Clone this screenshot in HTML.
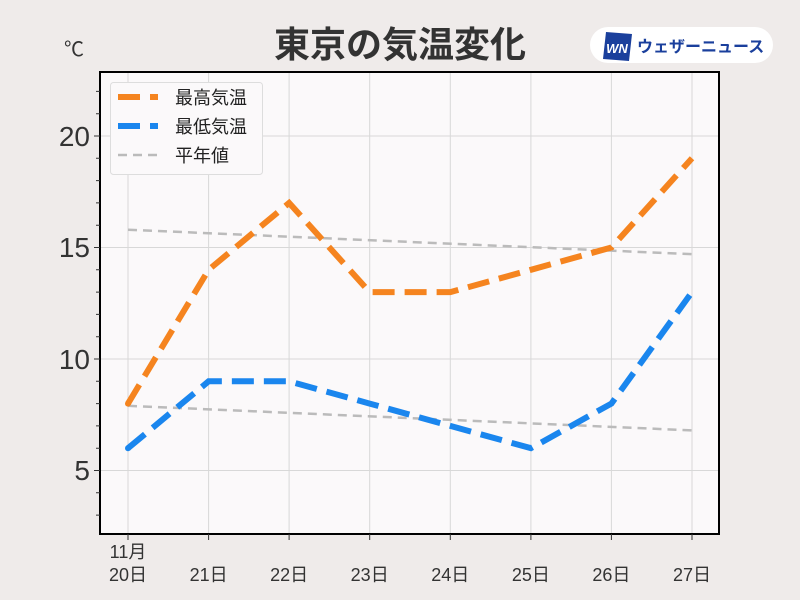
<!DOCTYPE html>
<html><head><meta charset="utf-8"><style>
body{margin:0;background:#efebea;}
svg{display:block;font-family:"Liberation Sans","Noto Sans CJK JP",sans-serif;}
</style></head><body>
<svg width="800" height="600" viewBox="0 0 800 600">
<rect width="800" height="600" fill="#efebea"/>
<text x="400" y="57" text-anchor="middle" font-size="36" font-weight="bold" fill="#333">東京の気温変化</text>
<rect x="590" y="27" width="183" height="36" rx="18" fill="#fff"/>
<polygon points="606,32 632,34 629,61 603,59" fill="#1a3f9c"/>
<text x="617" y="53" text-anchor="middle" font-size="13" font-weight="bold" font-style="italic" fill="#fff">WN</text>
<text x="637" y="52" font-size="16" font-weight="bold" fill="#1a3f9c">ウェザーニュース</text>
<text x="64" y="56" font-size="20" fill="#333">℃</text>
<rect x="100" y="72" width="619" height="462" fill="#fbf9fa"/>
<g stroke="#d8d8d8" stroke-width="1">
<line x1="128" y1="72" x2="128" y2="534"/><line x1="208.6" y1="72" x2="208.6" y2="534"/><line x1="289.1" y1="72" x2="289.1" y2="534"/><line x1="369.7" y1="72" x2="369.7" y2="534"/><line x1="450.3" y1="72" x2="450.3" y2="534"/><line x1="530.9" y1="72" x2="530.9" y2="534"/><line x1="611.4" y1="72" x2="611.4" y2="534"/><line x1="692" y1="72" x2="692" y2="534"/>
<line x1="100" y1="136" x2="719" y2="136"/><line x1="100" y1="247.5" x2="719" y2="247.5"/><line x1="100" y1="359" x2="719" y2="359"/><line x1="100" y1="470.5" x2="719" y2="470.5"/>
</g>
<g stroke="#bbb" stroke-width="2.5" stroke-dasharray="9,6" fill="none">
<line x1="128" y1="229.7" x2="692" y2="254.2"/>
<line x1="128" y1="405.8" x2="692" y2="430.4"/>
</g>
<polyline points="128,403.6 208.6,269.8 289.1,202.9 369.7,292.1 450.3,292.1 530.9,269.8 611.4,247.5 692,158.3" fill="none" stroke="#f5841f" stroke-width="6" stroke-dasharray="22,10"/>
<polyline points="128,448.2 208.6,381.3 289.1,381.3 369.7,403.6 450.3,425.9 530.9,448.2 611.4,403.6 692,292.1" fill="none" stroke="#1a86ee" stroke-width="6" stroke-dasharray="22,10"/>
<circle cx="128" cy="403.6" r="3" fill="#f5841f"/><circle cx="128" cy="448.2" r="3" fill="#1a86ee"/>
<rect x="100" y="72" width="619" height="462" fill="none" stroke="#000" stroke-width="2"/>
<g stroke="#333" stroke-width="1">
<line x1="94" y1="136" x2="100" y2="136"/><line x1="94" y1="247.5" x2="100" y2="247.5"/><line x1="94" y1="359" x2="100" y2="359"/><line x1="94" y1="470.5" x2="100" y2="470.5"/>
<path d="M96,515.1H100M96,492.8H100M96,448.2H100M96,425.9H100M96,403.6H100M96,381.3H100M96,336.7H100M96,314.4H100M96,292.1H100M96,269.8H100M96,225.2H100M96,202.9H100M96,180.6H100M96,158.3H100M96,113.7H100M96,91.4H100"/>
<path d="M128,534V540M208.6,534V540M289.1,534V540M369.7,534V540M450.3,534V540M530.9,534V540M611.4,534V540M692,534V540"/>
</g>
<g font-size="28" fill="#333" text-anchor="end">
<text x="90" y="146">20</text><text x="90" y="257">15</text><text x="90" y="369">10</text><text x="90" y="480">5</text>
</g>
<g font-size="18" fill="#333" text-anchor="middle">
<text x="128" y="558">11月</text>
<text x="128" y="581">20日</text><text x="208.6" y="581">21日</text><text x="289.1" y="581">22日</text><text x="369.7" y="581">23日</text><text x="450.3" y="581">24日</text><text x="530.9" y="581">25日</text><text x="611.4" y="581">26日</text><text x="692" y="581">27日</text>
</g>
<rect x="110.5" y="82.5" width="152" height="92" rx="3" fill="#fbf9fa" stroke="#ddd"/>
<line x1="118" y1="97" x2="158" y2="97" stroke="#f5841f" stroke-width="6" stroke-dasharray="22,10"/>
<line x1="118" y1="126" x2="158" y2="126" stroke="#1a86ee" stroke-width="6" stroke-dasharray="22,10"/>
<line x1="118" y1="155" x2="158" y2="155" stroke="#bbb" stroke-width="2.5" stroke-dasharray="9,6"/>
<g font-size="18" fill="#222"><text x="175" y="104">最高気温</text><text x="175" y="133">最低気温</text><text x="175" y="162">平年値</text></g>
</svg>
</body></html>
